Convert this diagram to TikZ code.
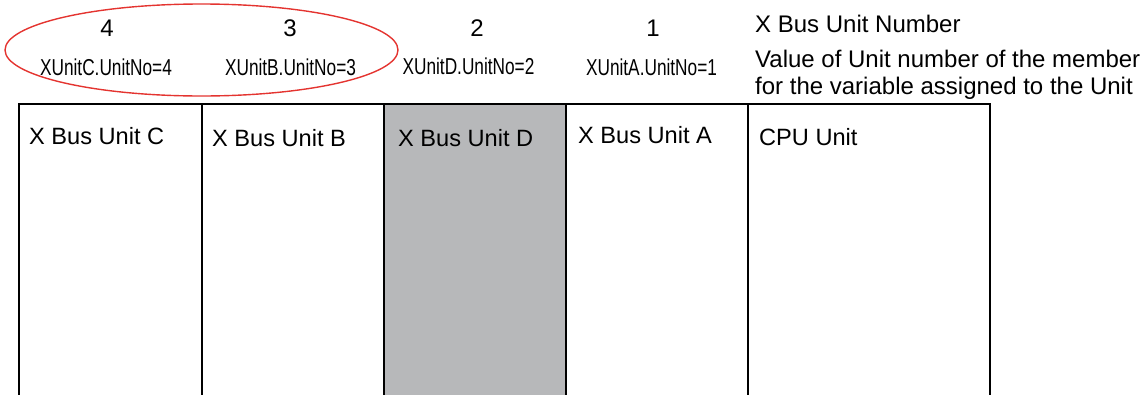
\documentclass[tikz,border=0pt]{standalone}
\usepackage{fontspec}
\setmainfont{Liberation Sans}
\newfontfamily\narrowfont[FakeStretch=0.75]{Liberation Sans}
\begin{document}
\begin{tikzpicture}[x=1pt,y=-1pt,
  unitbox/.style={draw=black,line width=1.8pt,inner sep=0pt,outer sep=0pt},
  unittext/.style={anchor=base west,inner sep=0pt,font=\fontsize{23.6}{28}\selectfont},
  numtext/.style={anchor=base,inner sep=0pt,font=\fontsize{24}{28}\selectfont},
  membertext/.style={anchor=base,inner sep=0pt,font=\narrowfont\fontsize{23}{28}\selectfont},
  notetext/.style={anchor=base west,inner sep=0pt,font=\fontsize{24}{28}\selectfont},
  redring/.style={draw={rgb,255:red,228;green,52;blue,48},line width=1.4pt}]
\useasboundingbox (0,0) rectangle (1148,394);
\clip (0,0) rectangle (1148,394);
% boxes
\node[unitbox,minimum width=183pt,minimum height=300pt,anchor=north west] (boxC) at (19,104) {};
\node[unitbox,minimum width=182pt,minimum height=300pt,anchor=north west] (boxB) at (202,104) {};
\node[unitbox,fill={rgb,255:red,183;green,184;blue,186},minimum width=182pt,minimum height=300pt,anchor=north west] (boxD) at (384,104) {};
\node[unitbox,minimum width=182pt,minimum height=300pt,anchor=north west] (boxA) at (566,104) {};
\node[unitbox,minimum width=242pt,minimum height=300pt,anchor=north west] (boxCPU) at (748,104) {};
% box texts
\node[unittext] (tC) at (29,144) {X Bus Unit C};
\node[unittext] (tB) at (212,146) {X Bus Unit B};
\node[unittext] (tD) at (398,146) {X Bus Unit D};
\node[unittext] (tA) at (578,143.5) {X Bus Unit A};
\node[unittext] (tCPU) at (759,145) {CPU Unit};
% unit numbers
\node[numtext] (n4) at (107,36) {4};
\node[numtext] (n3) at (290,36) {3};
\node[numtext] (n2) at (477,36) {2};
\node[numtext] (n1) at (653,36) {1};
% member values
\node[membertext] (mC) at (106,75) {XUnitC.UnitNo=4};
\node[membertext] (mB) at (290.5,75) {XUnitB.UnitNo=3};
\node[membertext] (mD) at (468.5,74) {XUnitD.UnitNo=2};
\node[membertext] (mA) at (651.5,75) {XUnitA.UnitNo=1};
% notes
\node[notetext] (note1) at (755,32.3) {X Bus Unit Number};
\node[notetext] (note2) at (755,67.7) {Value of Unit number of the member};
\node[notetext] (note3) at (755,94.3) {for the variable assigned to the Unit};
% red ellipse
\draw[redring] (201.5,50) ellipse [x radius=196.5, y radius=46];
\end{tikzpicture}
\end{document}
